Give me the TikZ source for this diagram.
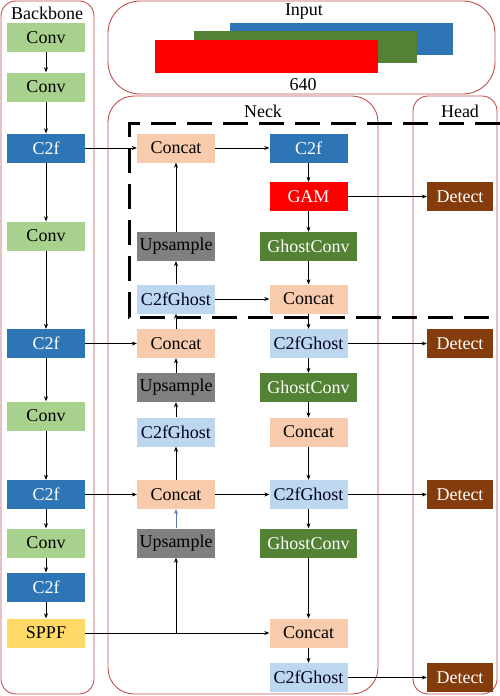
\documentclass[tikz,border=0pt]{standalone}
\usepackage{fontspec}
\setmainfont{Liberation Serif}
\usetikzlibrary{arrows.meta}
\definecolor{panelc}{RGB}{192,80,77}
\definecolor{convc}{RGB}{169,209,142}
\definecolor{cftc}{RGB}{46,117,182}
\definecolor{catc}{RGB}{248,203,173}
\definecolor{upc}{RGB}{128,128,128}
\definecolor{cghc}{RGB}{189,215,238}
\definecolor{gamc}{RGB}{255,0,0}
\definecolor{gcc}{RGB}{84,130,53}
\definecolor{detc}{RGB}{132,60,12}
\definecolor{sppfc}{RGB}{255,217,102}
\definecolor{bluearr}{RGB}{90,120,180}
\tikzset{
  panel/.style={draw=panelc, line width=0.9pt},
  blk/.style={minimum width=78pt, minimum height=29pt, inner sep=0pt, font=\fontsize{18}{20}\selectfont},
  convb/.style={blk, fill=convc, text=black},
  cftb/.style={blk, fill=cftc, text=white},
  catb/.style={blk, fill=catc, text=black},
  upb/.style={blk, fill=upc, text=black},
  cghb/.style={blk, fill=cghc, text=black!85!blue},
  gamb/.style={blk, fill=gamc, text=white},
  gcb/.style={blk, fill=gcc, text=white, minimum width=97pt},
  detb/.style={blk, fill=detc, text=white, minimum width=66pt},
  sppfb/.style={blk, fill=sppfc, text=black},
  ttl/.style={font=\fontsize{18}{20}\selectfont, inner sep=0pt},
  arr/.style={-{Stealth[length=5pt,width=4pt]}, line width=0.6pt},
  dashbox/.style={line width=3pt, dash pattern=on 25pt off 11pt},
}
\begin{document}
\begin{tikzpicture}[x=1pt,y=-1pt]
\useasboundingbox (0,0) rectangle (500,696);
% panels
\draw[panel, rounded corners=15pt] (1,1) rectangle (94,694);
\draw[panel, rounded corners=32pt] (108,1) rectangle (495,94);
\draw[panel, rounded corners=26pt] (108,96) rectangle (378,694);
\draw[panel, rounded corners=15pt] (413,96) rectangle (497,694);
\node[ttl] (tbb) at (47,13) {Backbone};
\node[ttl] (tin) at (304,12) {Input};
\node[ttl] (tnk) at (263,111) {Neck};
\node[ttl] (thd) at (460,111) {Head};
% input tensors
\fill[cftc] (230,23) rectangle (453,55);
\fill[gcc] (194,31) rectangle (417,63);
\fill[gamc] (155,40) rectangle (378,73);
\node[ttl] (t640) at (303,85) {640};
% dashed box
\draw[dashbox] (500,123) -- (129,123) -- (129,317) -- (500,317);
% backbone
\node[convb] (b1) at (46,37.5) {Conv};
\node[convb] (b2) at (46,87) {Conv};
\node[cftb] (b3) at (46,148) {C2f};
\node[convb] (b4) at (46,236) {Conv};
\node[cftb] (b5) at (46,343.5) {C2f};
\node[convb] (b6) at (46,416) {Conv};
\node[cftb] (b7) at (46,494.5) {C2f};
\node[convb] (b8) at (46,543) {Conv};
\node[cftb] (b9) at (46,587) {C2f};
\node[sppfb] (b10) at (46,633) {SPPF};
% neck left
\node[catb] (l1) at (176,148) {Concat};
\node[upb] (l2) at (176,246.5) {Upsample};
\node[cghb] (l3) at (176,299) {C2fGhost};
\node[catb] (l4) at (176,343.5) {Concat};
\node[upb] (l5) at (176,387.5) {Upsample};
\node[cghb] (l6) at (176,432) {C2fGhost};
\node[catb] (l7) at (176,494.5) {Concat};
\node[upb] (l8) at (176,543) {Upsample};
% neck right
\node[cftb] (r1) at (308.5,148) {C2f};
\node[gamb] (r2) at (308.5,196.5) {GAM};
\node[gcb] (r3) at (308.5,246.5) {GhostConv};
\node[catb] (r4) at (308.5,299) {Concat};
\node[cghb] (r5) at (308.5,343.5) {C2fGhost};
\node[gcb] (r6) at (308.5,387.5) {GhostConv};
\node[catb] (r7) at (308.5,432) {Concat};
\node[cghb] (r8) at (308.5,494.5) {C2fGhost};
\node[gcb] (r9) at (308.5,543) {GhostConv};
\node[catb] (r10) at (308.5,633) {Concat};
\node[cghb] (r11) at (308.5,677.5) {C2fGhost};
% head
\node[detb] (d1) at (460,196.5) {Detect};
\node[detb] (d2) at (460,343.5) {Detect};
\node[detb] (d3) at (460,494.5) {Detect};
\node[detb] (d4) at (460,677.5) {Detect};
% backbone arrows
\foreach \a/\b in {b1/b2,b2/b3,b3/b4,b4/b5,b5/b6,b6/b7,b7/b8,b8/b9,b9/b10}
  \draw[arr] (\a) -- (\b);
% lateral connections
\draw[arr] (b3) -- (l1);
\draw[arr] (b5) -- (l4);
\draw[arr] (b7) -- (l7);
\draw[arr] (l1) -- (r1);
\draw[arr] (l3) -- (r4);
\draw[arr] (l7) -- (r8);
% neck left upward
\draw[arr] (l2) -- (l1);
\draw[arr] (l3) -- (l2);
\draw[arr] (l4) -- (l3);
\draw[arr] (l5) -- (l4);
\draw[arr] (l6) -- (l5);
\draw[arr] (l7) -- (l6);
\draw[arr, draw=bluearr] (l8) -- (l7);
% SPPF
\coordinate (j) at (l8 |- b10);
\draw[arr] (b10) -- (r10);
\draw[arr] (j) -- (l8);
% neck right downward
\foreach \a/\b in {r1/r2,r2/r3,r3/r4,r4/r5,r5/r6,r6/r7,r7/r8,r8/r9,r9/r10,r10/r11}
  \draw[arr] (\a) -- (\b);
% to head
\draw[arr] (r2) -- (d1);
\draw[arr] (r5) -- (d2);
\draw[arr] (r8) -- (d3);
\draw[arr] (r11) -- (d4);
\end{tikzpicture}
\end{document}
